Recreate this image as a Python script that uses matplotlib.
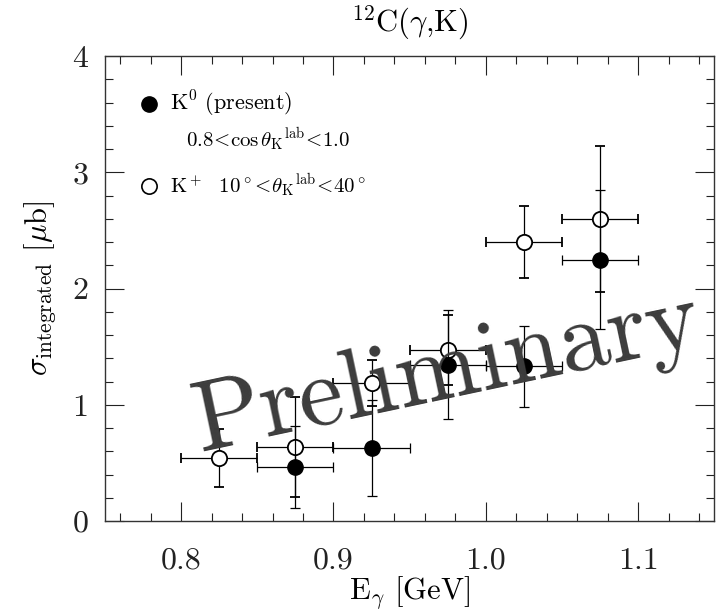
import numpy as np
import matplotlib
matplotlib.use('Agg')
import matplotlib.pyplot as plt
from matplotlib.ticker import MultipleLocator, FormatStrFormatter

plt.rcParams['font.family'] = 'serif'
plt.rcParams['font.serif'] = ['cmr10', 'DejaVu Serif']
plt.rcParams['mathtext.fontset'] = 'cm'
plt.rcParams['axes.formatter.use_mathtext'] = True

# K0 (present) data
e_k0 = [0.875, 0.925, 0.975, 1.025, 1.075]
sig_k0 = [0.465, 0.63, 1.345, 1.33, 2.25]
err_k0 = [0.35, 0.41, 0.47, 0.35, 0.60]

# K+ data
e_kp = [0.825, 0.875, 0.925, 0.975, 1.025, 1.075]
sig_kp = [0.54, 0.635, 1.19, 1.47, 2.40, 2.60]
err_kp = [0.25, 0.43, 0.20, 0.30, 0.31, 0.63]

e_halfwidth = 0.025

fig = plt.figure(figsize=(7.16, 6.16), dpi=100)
ax = fig.add_axes([0.1466, 0.154, 0.851, 0.755])

ax.errorbar(e_kp, sig_kp, xerr=e_halfwidth, yerr=err_kp, fmt='o', mfc='white', mec='black',
            mew=1.3, ms=11, ecolor='black', elinewidth=0.9, capsize=3.5, capthick=0.9, zorder=3)
ax.errorbar(e_k0, sig_k0, xerr=e_halfwidth, yerr=err_k0, fmt='o', mfc='black', mec='black',
            ms=11, ecolor='black', elinewidth=0.9, capsize=3.5, capthick=0.9, zorder=4)

ax.set_xlim(0.75, 1.15)
ax.set_ylim(0, 4)
ax.xaxis.set_major_locator(MultipleLocator(0.1))
ax.xaxis.set_minor_locator(MultipleLocator(0.02))
ax.yaxis.set_major_locator(MultipleLocator(1))
ax.yaxis.set_minor_locator(MultipleLocator(0.2))
ax.tick_params(which='both', direction='in', top=True, right=True, labelsize=23, width=0.8, colors='#222222')
ax.tick_params(which='major', length=14)
ax.tick_params(which='minor', length=6)
ax.tick_params(axis='x', pad=19)
ax.tick_params(axis='y', pad=12)
ax.xaxis.set_major_formatter(FormatStrFormatter('%.1f'))
ax.yaxis.set_major_formatter(FormatStrFormatter('%d'))
for s in ax.spines.values():
    s.set_linewidth(1.0)
    s.set_color('#333333')

ax.set_xlabel(r'E$_\gamma$ [GeV]', fontsize=22)
ax.xaxis.set_label_coords(0.5, -0.115)
ax.set_ylabel(r'$\sigma_{\rm integrated}$ [$\mu$b]', fontsize=22, labelpad=10)
ax.set_title(r'$^{12}$C($\gamma$,K)', fontsize=22, pad=18)

# legend
ax.plot([0.779], [3.59], 'o', mfc='black', mec='black', ms=11)
ax.text(0.793, 3.59, r'K$^0$ (present)', fontsize=16, va='center')
ax.text(0.803, 3.28, r'$0.8\!<\!\cos\theta_{\rm K}{}^{\rm lab}\!<\!1.0$', fontsize=15, va='center')
ax.plot([0.779], [2.88], 'o', mfc='white', mec='black', mew=1.2, ms=11)
ax.text(0.793, 2.88, r'K$^+$  $10^\circ\!<\!\theta_{\rm K}{}^{\rm lab}\!<\!40^\circ$', fontsize=15, va='center')

# watermark
fig.text(0.625, 0.395, 'Preliminary', fontsize=72, rotation=12, color='#3c3c3c',
         ha='center', va='center', family='cmr10', zorder=10)

fig.savefig('out.png', dpi=100, facecolor='w')
